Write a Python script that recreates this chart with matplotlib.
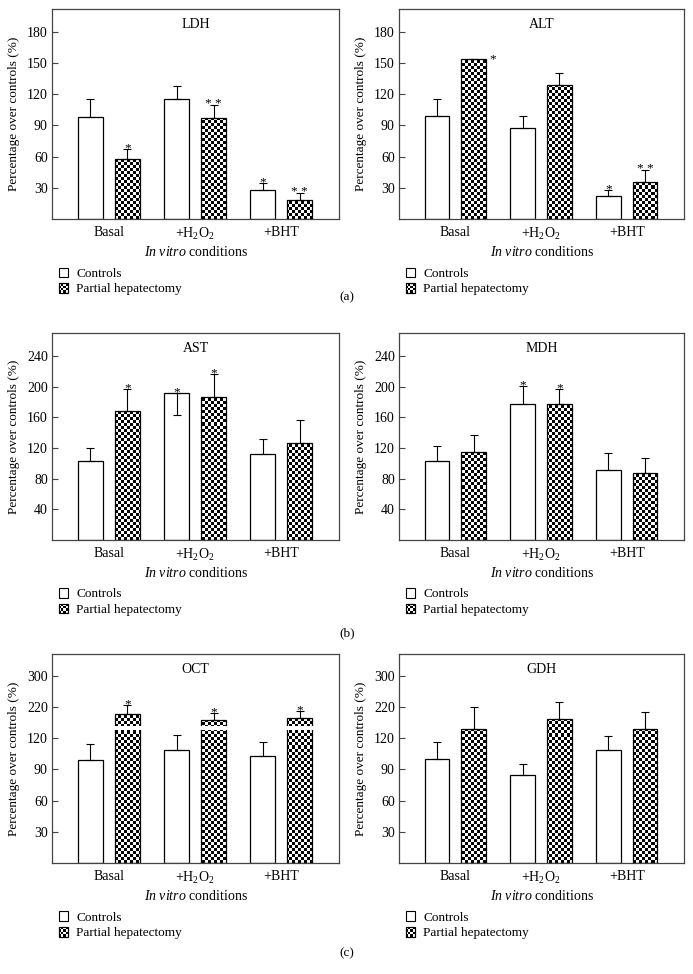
import numpy as np
import matplotlib
matplotlib.use('Agg')
import matplotlib.pyplot as plt
from matplotlib.patches import Rectangle
from matplotlib.legend_handler import HandlerBase

plt.rcParams['font.family'] = ['Liberation Serif', 'DejaVu Serif']
plt.rcParams['mathtext.fontset'] = 'custom'
plt.rcParams['mathtext.rm'] = 'Liberation Serif'
plt.rcParams['mathtext.it'] = 'Liberation Serif:italic'
plt.rcParams['font.size'] = 9

groups = ['Basal', '+H$_\\mathrm{2}$O$_\\mathrm{2}$', '+BHT']
seriesNames = ['Controls', 'Partial hepatectomy']

# (a) LDH
ldhControls = [98, 115, 27.5]
ldhControlsErr = [17, 13, 7]
ldhPartial = [57.5, 97, 18]
ldhPartialErr = [10, 13, 7]
ldhStarsC = ['', '', '*']
ldhStarsP = ['*', '* *', '* *']

# (a) ALT
altControls = [99, 88, 22.5]
altControlsErr = [16, 11, 5]
altPartial = [153.5, 128.5, 36]
altPartialErr = [0, 12, 11]
altStarsC = ['', '', '*']
altStarsP = ['side*', '', '* *']

# (b) AST
astControls = [103, 192, 112.5]
astControlsErr = [16.5, 0, 19]
astControlsErrDown = [0, 29, 0]
astPartial = [168, 187, 126.5]
astPartialErr = [29, 29.5, 30.5]
astStarsC = ['', '*', '']
astStarsP = ['*', '*', '']

# (b) MDH
mdhControls = [103, 177, 91]
mdhControlsErr = [20, 24, 22]
mdhPartial = [115, 177, 88]
mdhPartialErr = [21.5, 20.5, 19]
mdhStarsC = ['', '*', '']
mdhStarsP = ['', '*', '']

# (c) OCT
octControls = [99.5, 109, 103]
octControlsErr = [15, 22, 13.5]
octPartial = [199, 178, 186]
octPartialErr = [25, 22, 22]
octStarsC = ['', '', '']
octStarsP = ['*', '*', '*']

# (c) GDH
gdhControls = [100.5, 85, 108.5]
gdhControlsErr = [16, 10.5, 18.5]
gdhPartial = [149, 183, 149]
gdhPartialErr = [71, 50, 54]
gdhStarsC = ['', '', '']
gdhStarsP = ['', '', '']

ticks30 = [30, 60, 90, 120, 150, 180]
ticks40 = [40, 80, 120, 160, 200, 240]
ticksBroken = [30, 60, 90, 120, 220, 300]

# broken axis: 120 -> 220 -> 300 get one tick step each
brokenVals = [0, 120, 220, 300, 400]
brokenPos = [0, 4, 5, 6, 7.25]
def fwd(v):
    return np.interp(v, brokenVals, brokenPos)
def inv(u):
    return np.interp(u, brokenPos, brokenVals)

barW = 0.29
off = 0.215
frameColor = '#444444'
W, H = 693.0, 974.0
cellPx = 3


class CheckerHandler(HandlerBase):
    def __init__(self, checker):
        super().__init__()
        self.checker = checker

    def create_artists(self, legend, orig_handle, xdescent, ydescent, width, height, fontsize, trans):
        s = height * 1.05
        x0 = -xdescent
        y0 = -ydescent - 0.05 * height
        arts = [Rectangle((x0, y0), s, s, facecolor='white', edgecolor='black', lw=0.8, transform=trans)]
        if self.checker:
            n = 4
            c = s / n
            for i in range(n):
                for j in range(n):
                    if (i + j) % 2 == 0:
                        arts.append(Rectangle((x0 + i * c, y0 + j * c), c, c, facecolor='black', lw=0, transform=trans))
            arts.append(Rectangle((x0, y0), s, s, facecolor='none', edgecolor='black', lw=0.8, transform=trans))
        return arts


def drawPanel(ax, title, controls, controlsErr, partial, partialErr, starsC, starsP, yticks, ytop,
              controlsErrDown=None, broken=False, gap=False):
    x = np.arange(len(groups))
    if broken:
        ax.set_yscale('function', functions=(fwd, inv))
    if controlsErrDown is None:
        controlsErrDown = [0] * len(controls)

    ax.bar(x - off, controls, barW, color='white', edgecolor='black', linewidth=0.9, zorder=2)
    pBars = ax.bar(x + off, partial, barW, color='none', edgecolor='black', linewidth=0.9, zorder=3)

    # checkerboard fill of partial hepatectomy bars, cells on whole pixels
    bbox = ax.get_position()
    axWpx = bbox.width * W
    axHpx = bbox.height * H
    nx = int(np.ceil(axWpx / cellPx))
    ny = int(np.ceil(axHpx / cellPx))
    board = np.indices((ny, nx)).sum(axis=0) % 2
    for b in pBars:
        im = ax.imshow(board, cmap='gray', extent=(0, nx * cellPx / axWpx, 0, ny * cellPx / axHpx),
                       origin='lower', transform=ax.transAxes,
                       aspect='auto', interpolation='nearest', zorder=2.5)
        im.set_clip_path(b)

    if gap:
        ax.bar(x + off, [15] * len(partial), barW * 1.15, bottom=145, color='white',
               edgecolor='none', zorder=3.5)

    ax.errorbar(x - off, controls, yerr=[controlsErrDown, controlsErr], fmt='none',
                ecolor='black', elinewidth=0.8, capsize=3.2, capthick=0.8, zorder=4)
    ax.errorbar(x + off, partial, yerr=[[0] * len(partial), partialErr], fmt='none',
                ecolor='black', elinewidth=0.8, capsize=3.2, capthick=0.8, zorder=4)

    for i in range(len(groups)):
        if starsC[i]:
            ax.annotate(starsC[i], (x[i] - off, controls[i] + controlsErr[i]), xytext=(0, 0.5),
                        textcoords='offset points', ha='center', va='center', fontsize=9.5)
        if starsP[i] == 'side*':
            ax.annotate('*', (x[i] + off + barW / 2, partial[i]), xytext=(2.5, 0),
                        textcoords='offset points', ha='left', va='center', fontsize=9.5)
        elif starsP[i]:
            ax.annotate(starsP[i], (x[i] + off, partial[i] + partialErr[i]), xytext=(0, 0.5),
                        textcoords='offset points', ha='center', va='center', fontsize=9.5)

    ax.set_xlim(-0.66, 2.67)
    ax.set_ylim(0, ytop)
    ax.set_yticks(yticks)
    ax.set_yticklabels([str(t) for t in yticks])
    ax.set_xticks(x)
    ax.set_xticklabels(groups)
    ax.tick_params(axis='x', length=0, pad=5, labelsize=10)
    ax.tick_params(axis='y', direction='in', length=4, width=0.8, color=frameColor, pad=3, labelsize=10)
    ax.minorticks_off()
    for sp in ax.spines.values():
        sp.set_color(frameColor)
        sp.set_linewidth(0.9)

    ax.text(0.5, 0.925, title, transform=ax.transAxes, ha='center', va='center', fontsize=10)
    ax.set_xlabel('$\\mathit{In\\ vitro}$ conditions', fontsize=10, labelpad=2)
    ax.set_ylabel('Percentage over controls (%)', fontsize=9.5, labelpad=5)

    hC = Rectangle((0, 0), 1, 1)
    hP = Rectangle((0, 0), 1, 1)
    ax.legend([hC, hP], seriesNames, handler_map={hC: CheckerHandler(False), hP: CheckerHandler(True)},
              loc='upper left', bbox_to_anchor=(0.0, -0.2), frameon=False, borderpad=0,
              handlelength=0.75, handleheight=0.7, handletextpad=0.6, labelspacing=0.25, fontsize=9.5)


fig = plt.figure(figsize=(6.93, 9.74), dpi=100)
leftX, leftW = 52 / W, 287 / W
rightX, rightW = 399 / W, 285 / W
rows = [(9, 219), (333, 540), (654, 863)]

def axAt(col, row):
    top, bottom = rows[row]
    if col == 0:
        return fig.add_axes([leftX, 1 - bottom / H, leftW, (bottom - top) / H])
    return fig.add_axes([rightX, 1 - bottom / H, rightW, (bottom - top) / H])

drawPanel(axAt(0, 0), 'LDH', ldhControls, ldhControlsErr, ldhPartial, ldhPartialErr,
          ldhStarsC, ldhStarsP, ticks30, 202)
drawPanel(axAt(1, 0), 'ALT', altControls, altControlsErr, altPartial, altPartialErr,
          altStarsC, altStarsP, ticks30, 202)
drawPanel(axAt(0, 1), 'AST', astControls, astControlsErr, astPartial, astPartialErr,
          astStarsC, astStarsP, ticks40, 270, controlsErrDown=astControlsErrDown)
drawPanel(axAt(1, 1), 'MDH', mdhControls, mdhControlsErr, mdhPartial, mdhPartialErr,
          mdhStarsC, mdhStarsP, ticks40, 270)
drawPanel(axAt(0, 2), 'OCT', octControls, octControlsErr, octPartial, octPartialErr,
          octStarsC, octStarsP, ticksBroken, 356, broken=True, gap=True)
drawPanel(axAt(1, 2), 'GDH', gdhControls, gdhControlsErr, gdhPartial, gdhPartialErr,
          gdhStarsC, gdhStarsP, ticksBroken, 356, broken=True)

fig.text(347 / W, 1 - 297 / H, '(a)', ha='center', va='center', fontsize=9.5)
fig.text(347 / W, 1 - 633 / H, '(b)', ha='center', va='center', fontsize=9.5)
fig.text(347 / W, 1 - 953 / H, '(c)', ha='center', va='center', fontsize=9.5)

fig.savefig('out.png', dpi=100)
